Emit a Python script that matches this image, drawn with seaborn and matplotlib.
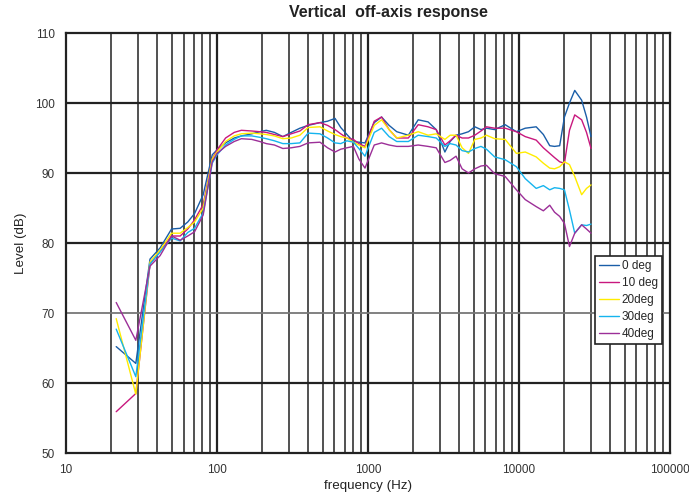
import numpy as np
import pandas as pd
import seaborn as sns
import matplotlib.pyplot as plt
from matplotlib.ticker import FixedLocator, NullFormatter

freq = [21.5, 29, 36, 42, 50, 57, 64, 71, 81, 93, 100, 114, 130, 145, 170, 192, 212, 240, 273, 310,
        354, 401, 481, 540, 605, 660, 725, 800, 870, 955, 1100, 1230, 1380, 1550, 1850, 2150, 2500,
        2830, 3230, 3500, 3830, 4200, 4630, 5100, 5600, 6090, 6900, 8100, 9610, 11000, 13000, 14500,
        15980, 17200, 18600, 20000, 21600, 23400, 26000, 28000, 30000]

deg0 = [65.2, 62.8, 77.7, 79.3, 82.0, 82.1, 83.0, 84.2, 86.9, 92.6, 93.3, 94.3, 95.0, 95.3, 95.6, 95.9,
        96.1, 95.8, 95.2, 95.8, 96.4, 96.8, 97.2, 97.4, 97.8, 96.5, 95.5, 94.5, 94.4, 94.3, 97.2, 98.0,
        96.8, 95.9, 95.4, 97.6, 97.3, 96.2, 93.0, 94.5, 95.4, 95.6, 95.9, 96.6, 96.2, 96.4, 96.2, 96.9,
        95.9, 96.4, 96.6, 95.5, 93.9, 93.8, 93.9, 98.0, 100.0, 101.8, 100.4, 98.0, 95.2]
deg10 = [55.9, 58.5, 77.0, 78.8, 81.0, 81.0, 82.0, 83.3, 85.5, 92.0, 93.3, 95.0, 95.8, 96.1, 96.0, 95.9,
         95.8, 95.5, 95.2, 95.6, 96.0, 96.9, 97.2, 96.8, 96.2, 95.6, 95.0, 94.8, 94.2, 93.8, 97.4, 98.0,
         96.2, 95.0, 95.0, 96.9, 96.6, 96.2, 94.0, 94.6, 95.4, 95.0, 95.0, 95.4, 96.0, 96.6, 96.4, 96.4,
         95.9, 95.2, 94.7, 93.6, 92.8, 92.2, 91.6, 91.4, 96.1, 98.3, 97.6, 95.8, 93.5]
deg20 = [69.2, 58.4, 77.3, 79.0, 81.4, 81.4, 82.2, 83.0, 85.0, 92.0, 93.0, 94.5, 95.3, 95.6, 95.7, 95.6,
         95.5, 95.3, 94.9, 95.0, 95.4, 96.5, 96.6, 96.0, 95.5, 95.2, 95.0, 94.4, 94.0, 93.6, 96.8, 97.6,
         96.2, 95.0, 95.4, 95.9, 95.4, 95.6, 94.8, 95.4, 95.4, 93.6, 92.8, 94.8, 95.0, 95.4, 94.9, 94.8,
         92.8, 93.0, 92.3, 91.4, 90.7, 90.6, 90.9, 91.6, 91.2, 89.5, 86.9, 87.8, 88.3]
deg30 = [67.7, 60.9, 77.0, 78.7, 80.7, 80.3, 81.5, 82.1, 84.3, 91.4, 92.6, 94.0, 94.8, 95.3, 95.3, 95.1,
         94.9, 94.6, 94.2, 94.2, 94.3, 95.7, 95.6, 95.0, 94.3, 94.2, 94.6, 94.4, 93.5, 92.4, 95.8, 96.4,
         95.2, 94.5, 94.5, 95.4, 95.2, 95.0, 93.8, 94.2, 94.0, 93.2, 93.0, 93.5, 93.8, 93.4, 92.3, 91.9,
         90.9, 89.2, 87.8, 88.2, 87.6, 87.9, 87.8, 87.6, 84.7, 81.4, 82.6, 82.5, 82.7]
deg40 = [71.5, 66.1, 76.7, 78.2, 81.0, 80.4, 81.0, 81.6, 84.0, 91.6, 92.8, 93.8, 94.5, 94.9, 94.8, 94.5,
         94.2, 94.0, 93.5, 93.6, 93.8, 94.3, 94.4, 93.6, 93.0, 93.4, 93.6, 93.8, 92.0, 90.7, 94.0, 94.3,
         94.0, 93.8, 93.8, 94.0, 93.8, 93.6, 91.5, 91.8, 92.4, 90.6, 90.0, 90.6, 91.0, 91.1, 89.9, 89.5,
         87.6, 86.2, 85.2, 84.6, 85.4, 84.4, 83.8, 82.8, 79.5, 81.4, 82.6, 82.0, 81.4]

labels = ['0 deg', '10 deg', '20deg', '30deg', '40deg']
colors = ['#1a5ea8', '#c8187e', '#ffec00', '#15b4ee', '#9c2f98']

rows = []
for lab, vals in zip(labels, [deg0, deg10, deg20, deg30, deg40]):
    for f, v in zip(freq, vals):
        rows.append((f, v, lab))
df = pd.DataFrame(rows, columns=['freq', 'level', 'angle'])

sns.set_style('white')
plt.rcParams['font.family'] = ['Liberation Sans', 'DejaVu Sans']

fig = plt.figure(figsize=(6.89, 4.97), dpi=100)
ax = fig.add_axes([0.0958, 0.0885, 0.8766, 0.8451])

ax.set_xscale('log')
ax.set_xlim(10, 100000)
ax.set_ylim(50, 110)

# grid
minors = [m * 10 ** e for e in range(1, 5) for m in range(2, 10)]
for x in minors:
    ax.axvline(x, color='#222222', lw=1.1, zorder=1)
for x in [100, 1000, 10000]:
    ax.axvline(x, color='#222222', lw=1.6, zorder=1)
for y in [60, 80, 90, 100]:
    ax.axhline(y, color='#222222', lw=1.6, zorder=1)
ax.axhline(70, color='#777777', lw=1.3, zorder=1)

sns.lineplot(data=df, x='freq', y='level', hue='angle', palette=colors, hue_order=labels,
             lw=1.0, ax=ax, zorder=3, estimator=None)

ax.xaxis.set_major_locator(FixedLocator([10, 100, 1000, 10000, 100000]))
ax.set_xticklabels(['10', '100', '1000', '10000', '100000'])
ax.xaxis.set_minor_formatter(NullFormatter())
ax.set_yticks(range(50, 111, 10))
ax.tick_params(axis='both', which='major', labelsize=8.5, length=3, color='#555555',
               labelcolor='#333333', pad=5)
ax.tick_params(axis='x', which='minor', length=0)

for s in ax.spines.values():
    s.set_color('#222222')
    s.set_linewidth(1.6)

fig.text(388 / 689, 1 - 13 / 497, 'Vertical  off-axis response', fontsize=11.5, fontweight='bold',
         ha='center', va='center', color='#222222')
ax.set_xlabel('frequency (Hz)', fontsize=9.6, labelpad=3, color='#222222')
ax.set_ylabel('Level (dB)', fontsize=9.6, labelpad=6, color='#222222')

leg = ax.legend(loc='upper left', bbox_to_anchor=(0.876, 0.469), fontsize=8.5, frameon=True,
                fancybox=False, handlelength=1.7, handletextpad=0.2, borderpad=0.35,
                labelspacing=0.42, borderaxespad=0)
leg.get_frame().set_edgecolor('#222222')
leg.get_frame().set_linewidth(1.2)
leg.get_frame().set_alpha(1)

fig.savefig('out.png', dpi=100)
